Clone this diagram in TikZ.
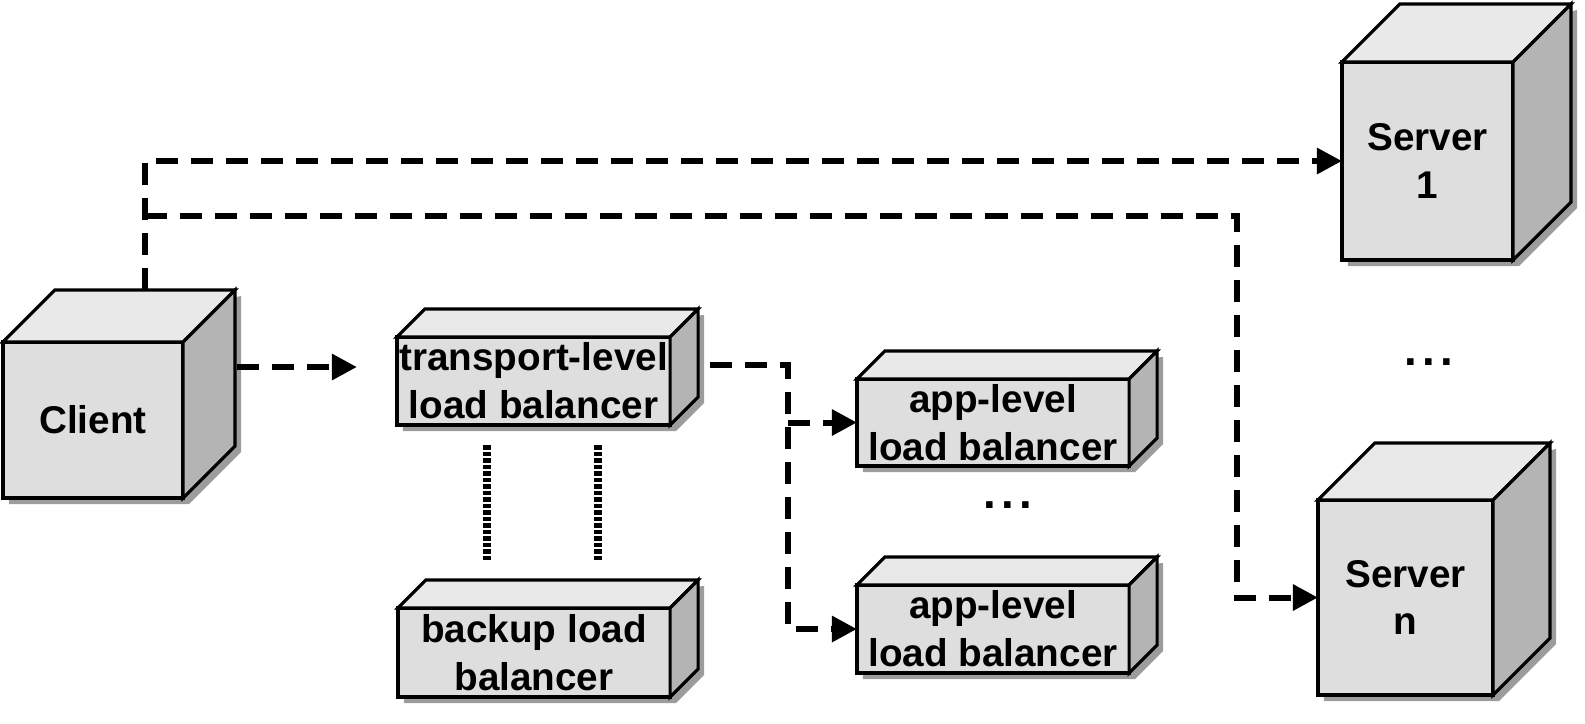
\documentclass[tikz,border=0pt]{standalone}
\usepackage{fontspec}
\setmainfont{Liberation Sans}
\usetikzlibrary{arrows.meta,backgrounds}

\definecolor{facegray}{HTML}{DEDEDE}
\definecolor{topgray}{HTML}{E9E9E9}
\definecolor{sidegray}{HTML}{B4B4B4}
\definecolor{shadowgray}{HTML}{9C9C9C}

% top and side faces of a box node: #1 node, #2 depth
\newcommand{\boxdepth}[2]{%
  \begin{scope}[on background layer]
    \fill[shadowgray] ([shift={(6,6)}]#1.south west) -- ([shift={(6,6)}]#1.south east)
      -- ++(#2,-#2) -- ([shift={(6+#2,6-#2)}]#1.north east)
      -- ([shift={(6,6)}]#1.north west) -- cycle;
  \end{scope}
  \filldraw[boxface, fill=topgray] (#1.north west) -- ++(#2,-#2)
    -- ([shift={(#2,-#2)}]#1.north east) -- (#1.north east) -- cycle;
  \filldraw[boxface, fill=sidegray] (#1.north east) -- ++(#2,-#2)
    -- ([shift={(#2,-#2)}]#1.south east) -- (#1.south east) -- cycle;
}

\begin{document}
\begin{tikzpicture}[
  x=0.01cm, y=-0.01cm,
  boxface/.style={draw, line width=0.9pt},
  box/.style={draw, fill=facegray, line width=0.9pt, inner sep=0pt, outer sep=0pt,
    align=center, font=\bfseries\fontsize{11}{13.6}\selectfont},
  flow/.style={line width=1.7pt, dash pattern=on 2.2mm off 1.3mm,
    -{Triangle[length=2.5mm,width=2.5mm]}},
  link/.style={line width=2pt, dash pattern=on 0.45mm off 0.2mm},
  dots/.style={inner sep=0pt, font=\bfseries\fontsize{13}{13}\selectfont\addfontfeatures{LetterSpace=12}}
]
  \useasboundingbox (0,0) rectangle (1585,723);

  % client
  \node[box, minimum width=1.8cm, minimum height=1.56cm] (client) at (93,420) {Client};
  \boxdepth{client}{52}

  % load balancers
  \node[box, minimum width=2.73cm, minimum height=0.88cm] (tlb) at (533.5,381) {transport-level\\load balancer};
  \boxdepth{tlb}{28}
  \node[box, minimum width=2.72cm, minimum height=0.89cm] (blb) at (534,652.5) {backup load\\balancer};
  \boxdepth{blb}{28}
  \node[box, minimum width=2.72cm, minimum height=0.87cm] (alb1) at (993,422.5) {app-level\\load balancer};
  \boxdepth{alb1}{28}
  \node[box, minimum width=2.72cm, minimum height=0.88cm] (alb2) at (993,629) {app-level\\load balancer};
  \boxdepth{alb2}{28}
  \node[dots] (adots) at (1008,505) {...};

  % servers
  \node[box, minimum width=1.71cm, minimum height=1.98cm] (srv1) at (1427.5,161) {Server\\1};
  \boxdepth{srv1}{58}
  \node[box, minimum width=1.75cm, minimum height=1.95cm] (srvn) at (1405.5,597.5) {Server\\n};
  \boxdepth{srvn}{57}
  \node[dots] (sdots) at (1429,362) {...};

  % bends
  \coordinate (split) at (145,216);
  \coordinate (bend) at (1237,216);
  \coordinate (fork) at (788,365);

  % direct edges
  \draw[flow] ([shift={(52,-52)}]client.north) |- (srv1.west);
  \draw[flow] (split) -- (bend) |- (srvn.west);

  % balanced edges
  \draw[flow] ([shift={(54,-53)}]client.east) -- ([shift={(-40,-14)}]tlb.west);
  \draw[flow] ([shift={(40,-16)}]tlb.east) -- (fork) |- (alb2.west);
  \draw[flow] (fork |- alb1.west) -- (alb1.west);

  % backup links
  \draw[link, shorten <=0.2cm, shorten >=0.46cm] (tlb.south -| 487,0) -- (blb.north -| 487,0);
  \draw[link, shorten <=0.2cm, shorten >=0.46cm] (tlb.south -| 598,0) -- (blb.north -| 598,0);

\end{tikzpicture}
\end{document}
